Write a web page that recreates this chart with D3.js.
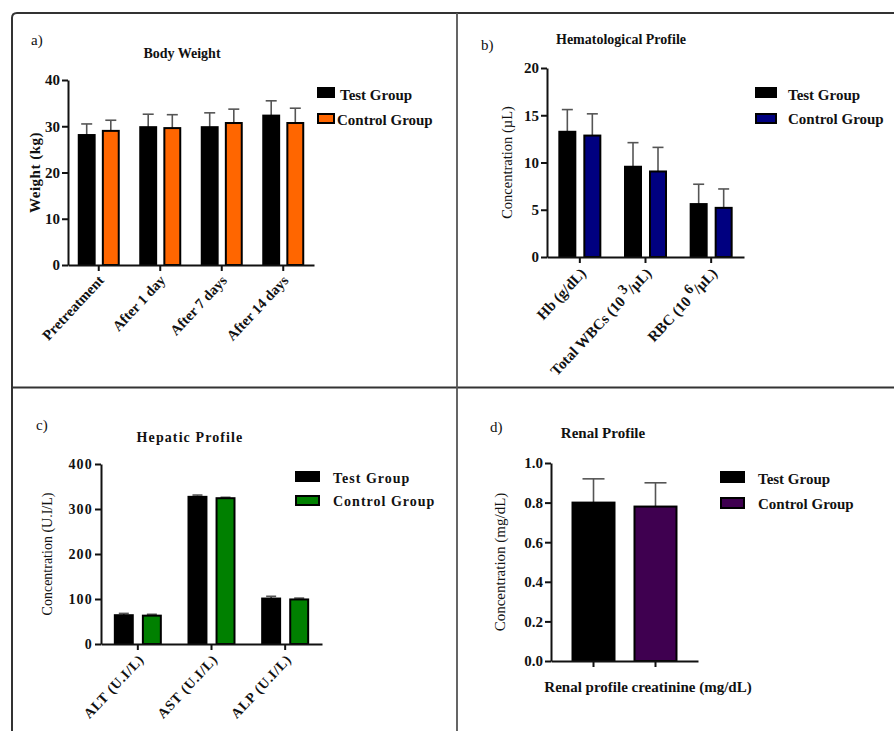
<!DOCTYPE html>
<html>
<head>
<meta charset="utf-8">
<script src="https://cdn.jsdelivr.net/npm/d3@7"></script>
<style>
  html, body { margin: 0; padding: 0; background: #fff; }
  svg { display: block; }
  svg text { font-family: "Liberation Serif", "Times New Roman", serif !important; fill: #111; }
</style>
</head>
<body>
<svg id="chart" width="894" height="731"></svg>
<script>
// ---------- DATA ----------
const groupNames = ["Test Group", "Control Group"];

// a) Body Weight
const bwCategories = ["Pretreatment", "After 1 day", "After 7 days", "After 14 days"];
const bwTest = [28.1, 29.8, 29.8, 32.3];
const bwTestErr = [2.4, 2.8, 3.1, 3.2];
const bwControl = [29.0, 29.6, 30.7, 30.7];
const bwControlErr = [2.3, 2.9, 3.0, 3.2];
const bwTicks = [0, 10, 20, 30, 40];

// b) Hematological Profile
const hemaCategories = ["Hb (g/dL)", "Total WBCs (10^3/µL)", "RBC (10^6/µL)"];
const hemaTest = [13.25, 9.55, 5.6];
const hemaTestErr = [2.35, 2.55, 2.1];
const hemaControl = [12.85, 9.05, 5.2];
const hemaControlErr = [2.3, 2.55, 2.0];
const hemaTicks = [0, 5, 10, 15, 20];

// c) Hepatic Profile
const hepCategories = ["ALT (U.I/L)", "AST (U.I/L)", "ALP (U.I/L)"];
const hepTest = [64, 327, 101];
const hepTestErr = [4, 4, 5];
const hepControl = [63, 324, 99];
const hepControlErr = [3, 2, 3];
const hepTicks = [0, 100, 200, 300, 400];

// d) Renal Profile
const renalCategories = ["Test Group", "Control Group"];
const renalValues = [0.80, 0.78];
const renalErr = [0.12, 0.12];
const renalTicks = [0, 0.2, 0.4, 0.6, 0.8, 1.0];

// ---------- DRAWING ----------
const svg = d3.select("#chart");
const FONT = '"Liberation Serif", "Times New Roman", serif';

// panel frame
const frame = svg.append("g").attr("fill", "none").attr("stroke", "#333").attr("stroke-width", 2);
frame.append("path").attr("d", "M12,731 L12,18 Q12,13 17,13 L894,13");
frame.append("line").attr("x1", 12).attr("x2", 894).attr("y1", 387.5).attr("y2", 387.5);
frame.append("line").attr("x1", 457).attr("x2", 457).attr("y1", 13).attr("y2", 731)
  .attr("stroke-width", 1.8).attr("stroke", "#555");

function addLabelText(sel, label, fontSize) {
  // supports "^digit" superscript
  const m = label.match(/^(.*?)\^(\d+)(.*)$/);
  if (!m) { sel.text(label); return; }
  sel.append("tspan").text(m[1] + " ");
  sel.append("tspan").attr("dy", -fontSize * 0.45).attr("font-size", fontSize * 0.95).text(m[2]);
  sel.append("tspan").attr("dy", fontSize * 0.45).text(m[3]);
}

function drawPanel(cfg) {
  const g = svg.append("g");
  const y = d3.scaleLinear().domain(cfg.domain).range([cfg.yBot, cfg.yTop]);
  const x = d3.scaleBand().domain(cfg.categories).range([cfg.x0, cfg.x1])
    .paddingInner(cfg.padInner || 0).paddingOuter(cfg.padOuter || 0);

  const rows = [];
  cfg.categories.forEach((c, i) => {
    cfg.series.forEach((s, j) => {
      rows.push({ cat: c, grp: j, v: s.values[i], e: s.err[i],
        color: s.colors ? s.colors[i] : s.color });
    });
  });
  let xpos, bw;
  if (cfg.series.length > 1) {
    const inner = d3.scaleBand().domain(d3.range(cfg.series.length))
      .range([-cfg.groupWidth / 2, cfg.groupWidth / 2]).paddingInner(cfg.groupPad);
    bw = inner.bandwidth();
    xpos = d => x(d.cat) + x.bandwidth() / 2 + inner(d.grp);
  } else {
    bw = x.bandwidth();
    xpos = d => x(d.cat);
  }

  // error bars
  const eg = g.append("g").attr("stroke", "#555").attr("stroke-width", 1.6);
  rows.forEach(d => {
    const cx = xpos(d) + bw / 2;
    eg.append("line").attr("x1", cx).attr("x2", cx).attr("y1", y(d.v)).attr("y2", y(d.v + d.e));
    eg.append("line").attr("x1", cx - cfg.cap / 2).attr("x2", cx + cfg.cap / 2)
      .attr("y1", y(d.v + d.e)).attr("y2", y(d.v + d.e));
  });

  g.append("g").selectAll("rect").data(rows).join("rect")
    .attr("x", xpos).attr("width", bw)
    .attr("y", d => y(d.v)).attr("height", d => y(0) - y(d.v))
    .attr("fill", d => d.color).attr("stroke", "#000").attr("stroke-width", 2);

  // y axis
  const ya = g.append("g").attr("transform", `translate(${cfg.x0},0)`)
    .call(d3.axisLeft(y).tickValues(cfg.ticks).tickSize(6).tickSizeOuter(0).tickPadding(2)
      .tickFormat(cfg.tickFormat || d3.format("d")));
  ya.attr("font-family", null);
  ya.select(".domain").attr("stroke", "#111").attr("stroke-width", 2);
  ya.selectAll(".tick line").attr("stroke", "#111").attr("stroke-width", 2);
  ya.selectAll(".tick text").style("font-family", FONT).style("font-weight", "bold")
    .style("font-size", cfg.tickFont + "px").attr("fill", "#111")
    .style("letter-spacing", (cfg.tickSpacing || 0) + "px");

  // x axis
  const xa = g.append("g").attr("transform", `translate(0,${cfg.yBot})`)
    .call(d3.axisBottom(x).tickSize(6).tickSizeOuter(0).tickFormat(""));
  xa.select(".domain").attr("stroke", "#111").attr("stroke-width", 2);
  xa.selectAll(".tick line").attr("stroke", "#111").attr("stroke-width", 2);
  xa.selectAll(".tick text").remove();

  if (cfg.rotLabels) {
    cfg.categories.forEach(c => {
      const cx = x(c) + x.bandwidth() / 2;
      const t = g.append("text")
        .attr("transform", `translate(${cx + cfg.labDx},${cfg.yBot + cfg.labDy}) rotate(-47)`)
        .attr("text-anchor", "end").attr("font-weight", "bold")
        .attr("font-size", cfg.labFont).attr("letter-spacing", cfg.labSpacing || 0);
      addLabelText(t, c, cfg.labFont);
    });
  }

  // title
  g.append("text").attr("x", cfg.title[1]).attr("y", cfg.title[2]).attr("text-anchor", "middle")
    .attr("font-weight", "bold").attr("font-size", cfg.title[3])
    .attr("letter-spacing", cfg.title[4] || 0).text(cfg.title[0]);
  // panel letter
  g.append("text").attr("x", cfg.letter[1]).attr("y", cfg.letter[2])
    .attr("font-size", 15).text(cfg.letter[0]);
  // y label
  g.append("text")
    .attr("transform", `translate(${cfg.ylab[1]},${(cfg.yTop + cfg.yBot) / 2}) rotate(-90)`)
    .attr("text-anchor", "middle").attr("font-size", cfg.ylab[2])
    .attr("font-weight", cfg.ylab[3] ? "bold" : "normal")
    .attr("letter-spacing", cfg.ylab[4] || 0).text(cfg.ylab[0]);

  // legend
  const L = cfg.legend;
  groupNames.forEach((n, i) => {
    g.append("rect").attr("x", L.x).attr("y", L.y[i]).attr("width", L.w).attr("height", L.h)
      .attr("fill", L.colors[i]).attr("stroke", "#000").attr("stroke-width", 2);
    g.append("text").attr("x", L.tx[i]).attr("y", L.ty[i]).attr("font-weight", "bold")
      .attr("font-size", L.font).attr("letter-spacing", L.spacing || 0).text(n);
  });
  return g;
}

// a) Body Weight
drawPanel({
  categories: bwCategories,
  series: [
    { values: bwTest, err: bwTestErr, color: "#000000" },
    { values: bwControl, err: bwControlErr, color: "#ff6600" }
  ],
  domain: [0, 40], ticks: bwTicks,
  x0: 68, x1: 314, yTop: 80, yBot: 265,
  groupWidth: 40, groupPad: 0.34, cap: 11,
  tickFont: 15, rotLabels: true, labFont: 14.5, labDx: 6, labDy: 16,
  title: ["Body Weight", 182, 58, 14],
  letter: ["a)", 31, 45],
  ylab: ["Weight (kg)", 40, 15, true, 0.5],
  legend: { x: 318, y: [88, 114], w: 16, h: 9, tx: [340, 337], ty: [100, 125], font: 15,
    colors: ["#000", "#ff6600"] }
});

// b) Hematological Profile
drawPanel({
  categories: hemaCategories,
  series: [
    { values: hemaTest, err: hemaTestErr, color: "#000000" },
    { values: hemaControl, err: hemaControlErr, color: "#000080" }
  ],
  domain: [0, 20], ticks: hemaTicks,
  x0: 547, x1: 744, yTop: 68, yBot: 257,
  groupWidth: 41, groupPad: 0.36, cap: 11,
  tickFont: 15, rotLabels: true, labFont: 15, labDx: 7, labDy: 17,
  title: ["Hematological Profile", 621, 44, 14],
  letter: ["b)", 481, 50],
  ylab: ["Concentration (µL)", 512, 14.5, false],
  legend: { x: 756, y: [88, 114], w: 20, h: 9, tx: [788, 788], ty: [100, 124], font: 15,
    colors: ["#000", "#000080"] }
});

// c) Hepatic Profile
drawPanel({
  categories: hepCategories,
  series: [
    { values: hepTest, err: hepTestErr, color: "#000000" },
    { values: hepControl, err: hepControlErr, color: "#008000" }
  ],
  domain: [0, 400], ticks: hepTicks,
  x0: 101, x1: 322, yTop: 464, yBot: 644,
  groupWidth: 46, groupPad: 0.36, cap: 10,
  tickFont: 14, tickSpacing: 1.2, rotLabels: true, labFont: 14, labSpacing: 0.8, labDx: 7, labDy: 16,
  title: ["Hepatic Profile", 190, 442, 14, 1.1],
  letter: ["c)", 36, 430],
  ylab: ["Concentration (U.I/L)", 52, 14, false],
  legend: { x: 296, y: [472, 496], w: 23, h: 9, tx: [333, 333], ty: [483, 506], font: 14, spacing: 1,
    colors: ["#000", "#008000"] }
});

// d) Renal Profile
const gd = drawPanel({
  categories: renalCategories,
  series: [
    { values: renalValues, err: renalErr, colors: ["#000000", "#3f0050"] }
  ],
  domain: [0, 1], ticks: renalTicks, tickFormat: d3.format(".1f"),
  x0: 551, x1: 698, yTop: 463, yBot: 661,
  padInner: 0.3226, padOuter: 0.347, cap: 22,
  tickFont: 15, rotLabels: false,
  title: ["Renal Profile", 603, 438, 15],
  letter: ["d)", 490, 432],
  ylab: ["Concentration (mg/dL)", 505, 15, false],
  legend: { x: 721, y: [472, 498], w: 23, h: 10, tx: [758, 758], ty: [484, 509], font: 15,
    colors: ["#000", "#3f0050"] }
});
gd.append("text").attr("x", 648).attr("y", 692).attr("text-anchor", "middle")
  .attr("font-weight", "bold").attr("font-size", 15).text("Renal profile creatinine (mg/dL)");
</script>
</body>
</html>
